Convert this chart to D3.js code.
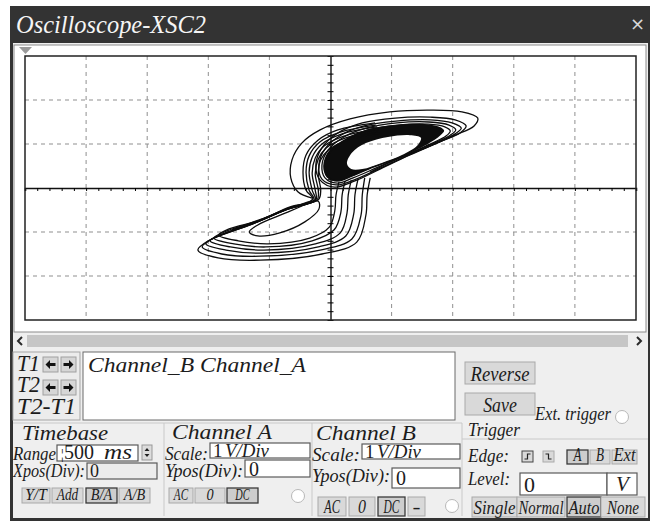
<!DOCTYPE html>
<html>
<head>
<meta charset="utf-8">
<script src="https://cdn.jsdelivr.net/npm/d3@7"></script>
<style>
  body { margin: 0; background: #fff; }
  svg { display: block; }
  text { font-family: "Liberation Serif", "Times New Roman", serif; font-style: italic; fill: #1c1c1c; }
</style>
</head>
<body>
<script>
'use strict';

// screen range in divisions (1 V/Div on both channels, B/A display)
const xDomain = [-5, 5];
const yDomain = [-3, 3];
const gridX = [-4, -3, -2, -1, 1, 2, 3, 4];
const gridY = [-2, -1, 1, 2];

// dense core of the upper scroll: outer edge and the empty hole
const coreOuter = [[-0.12,0.50],[-0.03,0.84],[0.25,1.12],[0.60,1.33],[1.10,1.44],[1.58,1.45],[1.80,1.38],[1.86,1.30],[1.80,1.20],[1.58,0.99],[1.14,0.70],[0.70,0.47],[0.34,0.26],[0.10,0.15],[-0.06,0.24]];
const coreHole = [[0.27,0.55],[0.35,0.80],[0.58,1.02],[0.94,1.16],[1.30,1.20],[1.48,1.14],[1.43,0.98],[1.17,0.75],[0.84,0.57],[0.52,0.43],[0.34,0.43]];

// loose rings round the core
const ring1 = [[-0.24,0.52],[-0.14,0.91],[0.12,1.25],[0.52,1.48],[1.06,1.59],[1.63,1.61],[2.04,1.55],[2.22,1.41],[2.12,1.25],[1.79,1.05],[1.30,0.75],[0.81,0.43],[0.40,0.16],[0.07,0.02],[-0.17,0.18]];
const ring2 = [[-0.19,0.52],[-0.09,0.89],[0.17,1.20],[0.55,1.41],[1.07,1.52],[1.63,1.55],[1.99,1.48],[2.14,1.36],[2.04,1.23],[1.73,1.02],[1.25,0.73],[0.78,0.43],[0.38,0.18],[0.09,0.07],[-0.14,0.20]];
const ring3 = [[-0.14,0.52],[-0.04,0.86],[0.22,1.16],[0.58,1.36],[1.09,1.48],[1.61,1.50],[1.94,1.43],[2.05,1.32],[1.96,1.20],[1.66,1.00],[1.20,0.73],[0.74,0.45],[0.37,0.23],[0.11,0.11],[-0.09,0.23]];
const ring4 = [[-0.09,0.52],[0.01,0.84],[0.27,1.11],[0.61,1.32],[1.10,1.43],[1.60,1.45],[1.87,1.39],[1.96,1.30],[1.89,1.18],[1.60,0.98],[1.15,0.70],[0.71,0.48],[0.35,0.27],[0.12,0.16],[-0.04,0.25]];

// widest swing: up from the streak, over the top of the upper scroll
const outerSweep = [[-0.30,-0.23],[-0.53,-0.09],[-0.65,0.23],[-0.63,0.64],[-0.47,1.02],[-0.17,1.32],[0.32,1.57],[0.97,1.73],[1.63,1.77],[2.15,1.73],[2.41,1.59],[2.35,1.41],[2.04,1.20],[1.55,0.91],[1.06,0.64],[0.65,0.36]];

// orbits that drop to the lower scroll and climb back
const transit0 = [[0.65,0.23],[0.60,-0.16],[0.58,-0.61],[0.43,-1.23],[-0.14,-1.50],[-1.15,-1.64],[-1.84,-1.59],[-2.17,-1.41],[-2.00,-1.20],[-1.32,-0.84],[-0.74,-0.50],[-0.29,-0.25],[-0.40,-0.05],[-0.45,0.36],[-0.40,0.75],[-0.20,1.09],[0.12,1.32],[0.73,1.48]];
const transit1 = [[0.56,0.23],[0.52,-0.16],[0.50,-0.61],[0.35,-1.16],[-0.17,-1.41],[-1.15,-1.55],[-1.78,-1.50],[-2.10,-1.34],[-1.94,-1.16],[-1.28,-0.82],[-0.73,-0.50],[-0.27,-0.27],[-0.35,-0.05],[-0.40,0.36],[-0.35,0.73],[-0.17,1.05],[0.16,1.27],[0.74,1.43]];
const transit2 = [[0.45,0.20],[0.40,-0.16],[0.38,-0.59],[0.25,-1.09],[-0.20,-1.34],[-1.12,-1.48],[-1.71,-1.41],[-2.04,-1.27],[-1.87,-1.11],[-1.25,-0.80],[-0.71,-0.48],[-0.25,-0.27],[-0.30,-0.05],[-0.35,0.36],[-0.30,0.70],[-0.14,1.00],[0.19,1.23],[0.76,1.39]];
const transit3 = [[0.34,0.18],[0.29,-0.16],[0.27,-0.57],[0.16,-1.02],[-0.25,-1.27],[-1.09,-1.41],[-1.64,-1.34],[-1.97,-1.20],[-1.81,-1.07],[-1.22,-0.77],[-0.70,-0.48],[-0.24,-0.27],[-0.25,-0.05],[-0.30,0.34],[-0.25,0.68],[-0.11,0.95],[0.22,1.18],[0.78,1.34]];
const transit4 = [[0.24,0.16],[0.19,-0.16],[0.17,-0.55],[0.06,-0.95],[-0.30,-1.20],[-1.06,-1.34],[-1.58,-1.27],[-1.91,-1.14],[-1.74,-1.00],[-1.19,-0.75],[-0.68,-0.45],[-0.22,-0.27],[-0.20,-0.05],[-0.25,0.32],[-0.20,0.66],[-0.07,0.91],[0.25,1.14],[0.79,1.30]];
const transit5 = [[0.14,0.14],[0.09,-0.16],[0.07,-0.52],[-0.02,-0.89],[-0.34,-1.14],[-1.02,-1.27],[-1.51,-1.20],[-1.83,-1.07],[-1.66,-0.93],[-1.15,-0.73],[-0.66,-0.43],[-0.20,-0.27],[-0.16,-0.05],[-0.20,0.30],[-0.16,0.64],[-0.04,0.86],[0.28,1.09],[0.81,1.25]];

// small turn inside the lower scroll
const lowerInner = [[-1.61,-0.95],[-1.12,-0.70],[-0.53,-0.39],[-0.20,-0.30],[-0.19,-0.48],[-0.42,-0.77],[-0.83,-1.02],[-1.19,-1.09],[-1.33,-1.00],[-1.19,-0.84],[-0.70,-0.55],[-0.24,-0.27]];

(function () {
  let svg = "";
  let xScale = "";
  let yScale = "";

  window.onload = function () {
    svg = d3.select('body')
      .append('svg')
      .attr('width', 656)
      .attr('height', 521);

    drawWindow();
    drawScreen();
    drawTrace();
    drawCursorPanel();
    drawControls();
  }

  // put italic text, squeezed to a width when given
  function label(x, y, str, size, len, anchor) {
    let t = svg.append('text')
      .attr('x', x)
      .attr('y', y)
      .style('font-size', size + 'px')
      .text(str);
    if (len) t.attr('textLength', len).attr('lengthAdjust', 'spacingAndGlyphs');
    if (anchor) t.attr('text-anchor', anchor);
    return t;
  }

  // upright text for values in the fields
  function value(x, y, str, size) {
    return svg.append('text')
      .attr('x', x)
      .attr('y', y)
      .style('font-style', 'normal')
      .style('font-size', size + 'px')
      .text(str);
  }

  // grey push button
  function button(x, y, w, h, str, pressed, size) {
    svg.append('rect')
      .attr('x', x).attr('y', y)
      .attr('width', w).attr('height', h)
      .attr('fill', pressed ? '#cdcdcd' : '#d9d9d9')
      .attr('stroke', pressed ? '#3a3a3a' : '#a9a9a9')
      .attr('stroke-width', pressed ? 1.3 : 1);
    let len = Math.min(w - 3, str.length * size * 0.42);
    label(x + w / 2, y + h - 3, str, size, len, 'middle');
  }

  // white input field
  function field(x, y, w, h, fill) {
    svg.append('rect')
      .attr('x', x).attr('y', y)
      .attr('width', w).attr('height', h)
      .attr('fill', fill || '#fff')
      .attr('stroke', '#5a5a5a')
      .attr('stroke-width', 1.2);
  }

  function radio(cx, cy) {
    svg.append('circle')
      .attr('cx', cx).attr('cy', cy).attr('r', 6.5)
      .attr('fill', '#fff')
      .attr('stroke', '#b8b8b8');
  }

  function drawWindow() {
    // dark frame and title bar
    svg.append('rect')
      .attr('x', 10).attr('y', 6)
      .attr('width', 640).attr('height', 515)
      .attr('fill', '#333333');

    svg.append('text')
      .attr('x', 16)
      .attr('y', 33)
      .style('font-size', '26px')
      .style('fill', '#f5f5f5')
      .attr('textLength', 190)
      .attr('lengthAdjust', 'spacingAndGlyphs')
      .text('Oscilloscope-XSC2');

    svg.append('text')
      .attr('x', 630)
      .attr('y', 30)
      .style('font-family', '"DejaVu Sans", sans-serif')
      .style('font-style', 'normal')
      .style('font-size', '18px')
      .style('fill', '#d8d8d8')
      .text('×');

    // client area
    svg.append('rect')
      .attr('x', 13).attr('y', 43)
      .attr('width', 635).attr('height', 475)
      .attr('fill', '#efefef');

    // white screen panel
    svg.append('rect')
      .attr('x', 14).attr('y', 45)
      .attr('width', 632).attr('height', 287)
      .attr('fill', '#fff')
      .attr('stroke', '#8c8c8c');

    // trigger marker at top left
    svg.append('path')
      .attr('d', 'M19,47 L32,47 L25.5,54 Z')
      .attr('fill', '#9a9a9a');

    // scroll bar
    svg.append('rect')
      .attr('x', 27).attr('y', 335)
      .attr('width', 601).attr('height', 12)
      .attr('fill', '#c6c6c6');
    svg.append('path')
      .attr('d', 'M22,337 L18,341 L22,345')
      .attr('fill', 'none').attr('stroke', '#2a2a2a').attr('stroke-width', 2);
    svg.append('path')
      .attr('d', 'M637,337 L641,341 L637,345')
      .attr('fill', 'none').attr('stroke', '#2a2a2a').attr('stroke-width', 2);
  }

  function drawScreen() {
    xScale = d3.scaleLinear().domain(xDomain).range([25, 636]);
    yScale = d3.scaleLinear().domain(yDomain).range([320, 56]);

    let grid = svg.append('g')
      .attr('stroke', '#8f8f8f')
      .attr('stroke-dasharray', '4,4');

    grid.selectAll('.gx')
      .data(gridX)
      .enter()
      .append('line')
      .attr('x1', (d) => xScale(d)).attr('x2', (d) => xScale(d))
      .attr('y1', yScale(3)).attr('y2', yScale(-3));

    grid.selectAll('.gy')
      .data(gridY)
      .enter()
      .append('line')
      .attr('y1', (d) => yScale(d)).attr('y2', (d) => yScale(d))
      .attr('x1', xScale(-5)).attr('x2', xScale(5));

    // centre axes with minor ticks (5 per division)
    let xAxis = d3.axisBottom(xScale)
      .tickValues(d3.range(-5, 5.001, 0.2))
      .tickSize(3)
      .tickFormat('');
    svg.append('g')
      .attr('transform', 'translate(0,' + yScale(0) + ')')
      .call(xAxis)
      .call((g) => g.select('.domain').attr('stroke-width', 1.6).attr('stroke', '#111'));

    let yAxis = d3.axisLeft(yScale)
      .tickValues(d3.range(-3, 3.001, 0.2))
      .tickSizeInner(3)
      .tickSizeOuter(0)
      .tickFormat('');
    svg.append('g')
      .attr('transform', 'translate(' + xScale(0) + ',0)')
      .call(yAxis)
      .call((g) => g.select('.domain').attr('stroke-width', 1.4).attr('stroke', '#111'))
      .call((g) => g.selectAll('.tick line').attr('x2', 3).attr('x1', -3));

    // screen frame
    svg.append('rect')
      .attr('x', xScale(-5)).attr('y', yScale(3))
      .attr('width', xScale(5) - xScale(-5))
      .attr('height', yScale(-3) - yScale(3))
      .attr('fill', 'none')
      .attr('stroke', '#222')
      .attr('stroke-width', 1.5);
  }

  function drawTrace() {
    let closed = d3.line()
      .x((d) => xScale(d[0]))
      .y((d) => yScale(d[1]))
      .curve(d3.curveCatmullRomClosed.alpha(0.5));

    let open = d3.line()
      .x((d) => xScale(d[0]))
      .y((d) => yScale(d[1]))
      .curve(d3.curveCatmullRom.alpha(0.5));

    let trace = svg.append('g');

    // solid core with its hole
    trace.append('path')
      .attr('d', closed(coreOuter) + closed(coreHole))
      .attr('fill', '#0d0d0d')
      .attr('fill-rule', 'evenodd');

    trace.selectAll('.ring')
      .data([ring1, ring2, ring3, ring4])
      .enter()
      .append('path')
      .attr('d', closed)
      .attr('fill', 'none')
      .attr('stroke', '#0d0d0d')
      .attr('stroke-width', 1.3);

    trace.selectAll('.orbit')
      .data([outerSweep, transit0, transit1, transit2, transit3, transit4, transit5, lowerInner])
      .enter()
      .append('path')
      .attr('d', open)
      .attr('fill', 'none')
      .attr('stroke', '#0d0d0d')
      .attr('stroke-width', 1.3);
  }

  // little black arrow inside a cursor button
  function arrow(x, y, left) {
    let d = left
      ? `M${x + 2.5},${y + 7.5} L${x + 7},${y + 3} L${x + 7},${y + 12} Z M${x + 7},${y + 6} h5.5 v3 h-5.5 Z`
      : `M${x + 12.5},${y + 7.5} L${x + 8},${y + 3} L${x + 8},${y + 12} Z M${x + 8},${y + 6} h-5.5 v3 h5.5 Z`;
    svg.append('path').attr('d', d).attr('fill', '#111');
  }

  function drawCursorPanel() {
    svg.append('rect')
      .attr('x', 13).attr('y', 352)
      .attr('width', 67).attr('height', 68)
      .attr('fill', '#ececec')
      .attr('stroke', '#a5a5a5');

    label(17, 371, 'T1', 23, 23);
    label(17, 392, 'T2', 23, 23);
    label(17, 414, 'T2-T1', 23, 59);

    // cursor arrow buttons
    [[43, 357], [61, 357], [43, 380], [61, 380]].forEach((p, i) => {
      svg.append('rect')
        .attr('x', p[0]).attr('y', p[1])
        .attr('width', 15).attr('height', 15)
        .attr('fill', '#d6d6d6')
        .attr('stroke', '#a0a0a0');
      arrow(p[0], p[1], i % 2 === 0);
    });

    svg.append('rect')
      .attr('x', 83).attr('y', 352)
      .attr('width', 372).attr('height', 68)
      .attr('fill', '#fff')
      .attr('stroke', '#6a6a6a');
    label(88, 372, 'Channel_B Channel_A', 22, 218);

    button(465, 362, 70, 22, 'Reverse', false, 20);
    button(465, 393, 70, 22, 'Save', false, 20);
    label(535, 420, 'Ext. trigger', 18, 76);
    radio(622, 417);
  }

  function drawControls() {
    // group box separators
    let sep = svg.append('g').attr('stroke', '#c9c9c9');
    sep.append('line').attr('x1', 13).attr('x2', 462).attr('y1', 423).attr('y2', 423);
    sep.append('line').attr('x1', 462).attr('x2', 648).attr('y1', 439).attr('y2', 439);
    [164, 312, 462].forEach((x) => {
      sep.append('line').attr('x1', x).attr('x2', x).attr('y1', 423).attr('y2', 516);
    });

    // Timebase
    label(22, 440, 'Timebase', 21, 86);
    label(13, 460, 'Range', 18, 43);
    field(57, 445, 81, 16);
    label(60, 459, '¦', 15);
    value(64, 459, '500', 20);
    label(104, 459, 'ms', 20, 28);
    svg.append('rect').attr('x', 142).attr('y', 445).attr('width', 10).attr('height', 15)
      .attr('fill', '#dcdcdc').attr('stroke', '#999');
    svg.append('path').attr('d', 'M144.5,451 L147,448 L149.5,451 Z M144.5,454 L147,457 L149.5,454 Z').attr('fill', '#222');
    label(13, 477, 'Xpos(Div):', 18, 72);
    field(87, 463, 70, 16, '#ececec');
    value(90, 477, '0', 18);
    button(22, 488, 28, 15, 'Y/T', false, 17);
    button(52, 488, 31, 15, 'Add', false, 17);
    button(86, 488, 31, 15, 'B/A', true, 17);
    button(119, 488, 31, 15, 'A/B', false, 17);

    // Channel A
    label(172, 439, 'Channel A', 21, 100);
    label(165, 460, 'Scale:', 18, 43);
    field(210, 443, 100, 15);
    value(213, 457, '1', 19);
    label(225, 457, 'V/Div', 19, 44);
    label(165, 477, 'Ypos(Div):', 18, 78);
    field(245, 460, 65, 17);
    value(249, 476, '0', 20);
    button(169, 488, 24, 15, 'AC', false, 17);
    button(195, 488, 30, 15, '0', false, 17);
    button(227, 488, 31, 15, 'DC', true, 17);
    radio(298, 496);

    // Channel B
    label(316, 440, 'Channel B', 21, 100);
    label(312, 461, 'Scale:', 18, 48);
    field(362, 444, 98, 15);
    value(365, 458, '1', 19);
    label(377, 458, 'V/Div', 19, 44);
    label(312, 482, 'Ypos(Div):', 18, 78);
    field(392, 468, 68, 20);
    value(396, 485, '0', 20);
    button(318, 497, 28, 19, 'AC', false, 19);
    button(349, 497, 26, 19, '0', false, 19);
    button(378, 497, 27, 19, 'DC', true, 19);
    button(408, 497, 17, 19, '-', false, 19);
    radio(452, 506);

    // Trigger
    label(468, 436, 'Trigger', 19, 52);
    label(468, 462, 'Edge:', 19, 41);
    [522, 543].forEach((bx, i) => {
      svg.append('rect').attr('x', bx).attr('y', 451).attr('width', 11).attr('height', 11)
        .attr('fill', '#d9d9d9').attr('stroke', i === 0 ? '#444' : '#aaa');
      svg.append('path')
        .attr('d', i === 0
          ? 'M' + (bx + 2.5) + ',459 h3 v-5 h3'
          : 'M' + (bx + 2.5) + ',454 h3 v5 h3')
        .attr('fill', 'none').attr('stroke', '#222').attr('stroke-width', 1.2);
    });
    button(567, 450, 21, 14, 'A', true, 19);
    button(590, 450, 20, 14, 'B', false, 19);
    button(612, 450, 25, 14, 'Ext', false, 19);
    label(468, 485, 'Level:', 19, 42);
    field(520, 473, 87, 22);
    value(524, 492, '0', 22);
    field(607, 473, 30, 22);
    label(616, 491, 'V', 21);
    button(472, 497, 45, 20, 'Single', false, 19);
    button(517, 497, 48, 20, 'Normal', false, 19);
    button(567, 497, 34, 20, 'Auto', true, 19);
    button(601, 497, 44, 20, 'None', false, 19);
  }

})();
</script>
</body>
</html>
